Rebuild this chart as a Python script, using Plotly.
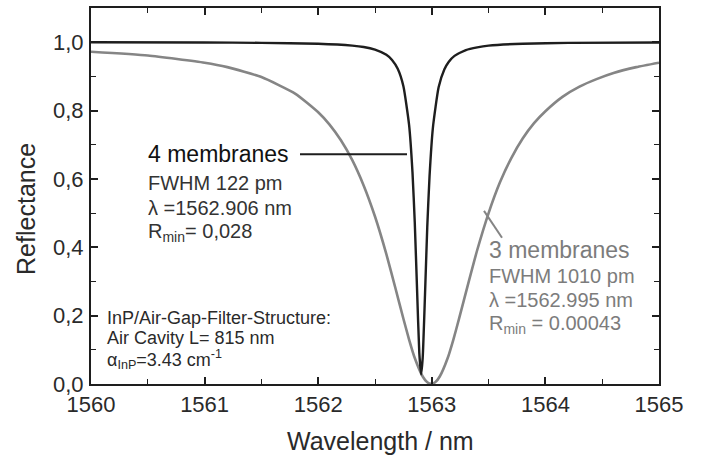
import plotly.graph_objects as go

# ---- data ----
x_4mem = [1560, 1561, 1561.5, 1562, 1562.3, 1562.4, 1562.5, 1562.6, 1562.65, 1562.7, 1562.75, 1562.8,
          1562.83, 1562.85, 1562.87, 1562.89, 1562.906, 1562.92, 1562.94, 1562.96,
          1562.98, 1563.01, 1563.06, 1563.11, 1563.15, 1563.2, 1563.3, 1563.4, 1563.5, 1563.8, 1564.2, 1565]
r_4mem = [0.9996, 0.999, 0.998, 0.9956, 0.990, 0.986, 0.978, 0.963, 0.948, 0.922, 0.871, 0.758,
          0.619, 0.473, 0.279, 0.091, 0.028, 0.077, 0.259, 0.459,
          0.607, 0.751, 0.868, 0.920, 0.943, 0.960, 0.977, 0.985, 0.990, 0.9955, 0.998, 0.999]

x_3mem = [1560, 1560.5, 1561, 1561.2, 1561.5, 1561.8, 1562, 1562.1, 1562.2, 1562.3, 1562.4, 1562.5,
          1562.6, 1562.68, 1562.75, 1562.8, 1562.85, 1562.92, 1562.96, 1562.995, 1563.03, 1563.07,
          1563.14, 1563.19, 1563.24, 1563.32, 1563.4, 1563.5, 1563.6, 1563.7, 1563.8, 1563.9, 1564,
          1564.15, 1564.3, 1564.45, 1564.6, 1564.8, 1565]
r_3mem = [0.972, 0.961, 0.940, 0.927, 0.898, 0.849, 0.795, 0.759, 0.713, 0.655, 0.581, 0.490,
          0.380, 0.280, 0.191, 0.130, 0.076, 0.022, 0.005, 0.0004, 0.005, 0.022,
          0.076, 0.130, 0.191, 0.293, 0.392, 0.500, 0.590, 0.661, 0.718, 0.763, 0.798,
          0.840, 0.870, 0.892, 0.910, 0.927, 0.940]

y_tickvals = [0.0, 0.2, 0.4, 0.6, 0.8, 1.0]
y_ticktext = ["0,0", "0,2", "0,4", "0,6", "0,8", "1,0"]
x_tickvals = [1560, 1561, 1562, 1563, 1564, 1565]

# ---- layout geometry (pixels) ----
W, H = 703, 456
L, R, T, B = 91, 659, 6, 384
FONT = "Liberation Sans, Arial, sans-serif"
DARK = "#1e1e1e"
GRAY = "#858585"
GTXT = "#7c7c7c"


def px(p):
    return (p - L) / (R - L)


def py(p):
    return (B - p) / (B - T)


fig = go.Figure()
fig.add_trace(go.Scatter(x=x_3mem, y=r_3mem, mode="lines",
                         line=dict(color=GRAY, width=2.6, shape="spline", smoothing=0.5), showlegend=False))
fig.add_trace(go.Scatter(x=x_4mem, y=r_4mem, mode="lines",
                         line=dict(color=DARK, width=2.4, shape="spline", smoothing=0.5), showlegend=False))

axis_common = dict(showline=True, linecolor=DARK, linewidth=2, mirror="ticks",
                   ticks="inside", tickcolor=DARK, tickwidth=1.6, ticklen=7,
                   showgrid=False, zeroline=False,
                   tickfont=dict(family=FONT, size=22, color="#2a2a2a"))

fig.update_xaxes(range=[1560, 1565], tickvals=x_tickvals, ticklabelstandoff=0,
                 minor=dict(ticks="inside", dtick=0.5, ticklen=5, tickcolor=DARK, tickwidth=1.4),
                 **axis_common)
fig.update_yaxes(range=[0, 1.1], tickvals=y_tickvals, ticktext=y_ticktext, ticklabelstandoff=1,
                 minor=dict(ticks="inside", tickvals=[0.1, 0.3, 0.5, 0.7, 0.9], ticklen=5,
                            tickcolor=DARK, tickwidth=1.4),
                 **axis_common)

ann = []


def text(xp, yp, s, size, color, xanchor="left", angle=0):
    ann.append(dict(x=px(xp), y=py(yp), xref="paper", yref="paper", text=s, showarrow=False,
                    xanchor=xanchor, yanchor="middle", textangle=angle,
                    font=dict(family=FONT, size=size, color=color)))


# axis titles
text(380, 441, "Wavelength / nm", 25, "#2a2a2a", xanchor="center")
text(26, 208, "Reflectance", 25, "#2a2a2a", xanchor="center", angle=-90)

# 4 membranes block
text(146, 153, "4 membranes", 23, "#111111")
text(146, 182, "FWHM 122 pm", 20, "#333333")
text(146, 207, "λ =1562.906 nm", 20, "#333333")
text(146, 232, "R<sub>min</sub>= 0,028", 20, "#333333")

# 3 membranes block
text(487, 249, "3 membranes", 23, GTXT)
text(487, 275, "FWHM 1010 pm", 20, GTXT)
text(487, 300, "λ =1562.995 nm", 20, GTXT)
text(487, 324, "R<sub>min</sub> = 0.00043", 20, GTXT)

# structure block
text(105, 318, "InP/Air-Gap-Filter-Structure:", 18, "#2a2a2a")
text(105, 338, "Air Cavity L= 815 nm", 18, "#2a2a2a")
text(105, 359, "α<sub>InP</sub>=3.43 cm<sup>-1</sup>", 18, "#2a2a2a")

shapes = [
    dict(type="line", xref="paper", yref="paper", x0=px(300), y0=py(153), x1=px(407), y1=py(153),
         line=dict(color=DARK, width=2)),
    dict(type="line", xref="paper", yref="paper", x0=px(484), y0=py(210), x1=px(502), y1=py(237),
         line=dict(color=GRAY, width=2)),
]

fig.update_layout(width=W, height=H, margin=dict(l=L, r=W - R, t=T, b=H - B),
                  paper_bgcolor="white", plot_bgcolor="white",
                  annotations=ann, shapes=shapes, showlegend=False)

fig.write_html("out.html")
